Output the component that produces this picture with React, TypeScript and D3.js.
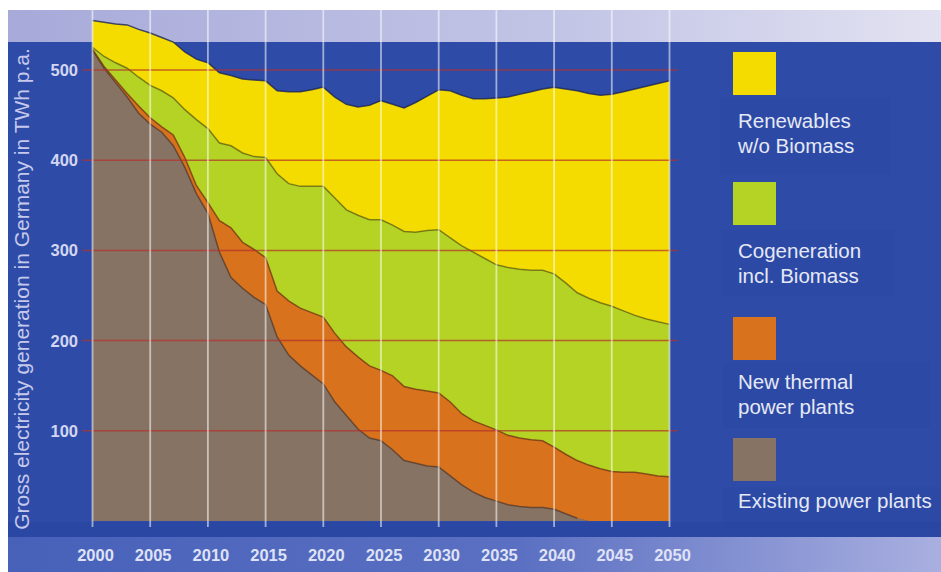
import React from "react";
import * as d3 from "d3";

// Gross electricity generation in Germany, TWh per year (stacked scenario)
const years = d3.range(2000, 2051);

const existingPlants = [
  522, 502, 486, 470, 452, 440, 431, 416, 392, 363,
  341, 298, 270, 258, 248, 240, 204, 184, 172, 162,
  152, 132, 117, 102, 92, 89, 79, 67, 64, 61,
  60, 50, 40, 32, 26, 22, 18, 16, 15, 15,
  13, 8, 3, 0, 0, 0, 0, 0, 0, 0,
  0,
];

const newThermalPlants = [
  1, 2, 3, 4, 8, 7, 6, 12, 11, 9,
  12, 35, 55, 51, 53, 52, 51, 60, 64, 69,
  74, 76, 76, 80, 80, 78, 82, 82, 82, 83,
  82, 82, 79, 79, 80, 79, 77, 76, 75, 74,
  69, 66, 64, 62, 58, 55, 54, 54, 52, 50,
  49,
];

const cogeneration = [
  2, 11, 19, 28, 32, 36, 40, 41, 53, 73,
  82, 86, 91, 99, 103, 111, 130, 130, 135, 140,
  145, 150, 152, 157, 162, 167, 167, 172, 174, 178,
  181, 182, 186, 187, 185, 183, 186, 187, 188, 189,
  192, 190, 186, 185, 184, 183, 179, 174, 172, 171,
  169,
];

const renewables = [
  30, 38, 43, 48, 53, 58, 59, 62, 64, 67,
  73, 78, 78, 82, 85, 85, 92, 102, 105, 107,
  110, 112, 117, 120, 127, 132, 134, 137, 144, 149,
  155, 163, 167, 170, 177, 185, 189, 194, 198, 201,
  207, 215, 224, 227, 230, 235, 243, 251, 258, 264,
  270,
];

const yTicks = [100, 200, 300, 400, 500];
const xTicks = [2000, 2005, 2010, 2015, 2020, 2025, 2030, 2035, 2040, 2045, 2050];

const seriesKeys = ["existing", "newThermal", "cogeneration", "renewables"];
const seriesColors = ["#877364", "#d8721c", "#b4d324", "#f4dc00"];
const seriesEdges = ["#5a3f2c", "#7a3a10", "#6b6a10", "#1c2457"];

const legendLabels = [
  ["Renewables", "w/o Biomass"],
  ["Cogeneration", "incl. Biomass"],
  ["New thermal", "power plants"],
  ["Existing power plants"],
];
const legendColors = ["#f4dc00", "#b4d324", "#d8721c", "#877364"];

const yTitle = "Gross electricity generation in Germany in TWh p.a.";

const W = 941;
const H = 572;
const FONT = "'Liberation Sans', Arial, Helvetica, sans-serif";

export default function App() {
  const x = d3.scaleLinear().domain([2000, 2050]).range([92.5, 669.5]);
  const y = d3.scaleLinear().domain([0, 500]).range([521, 70]);

  const table = years.map((yr, i) => ({
    year: yr,
    existing: existingPlants[i],
    newThermal: newThermalPlants[i],
    cogeneration: cogeneration[i],
    renewables: renewables[i],
  }));

  const stacked = d3.stack<any>().keys(seriesKeys)(table);

  const area = d3
    .area<any>()
    .x((d) => x(d.data.year))
    .y0((d) => y(d[0]))
    .y1((d) => y(d[1]));

  const topLine = d3
    .line<any>()
    .x((d) => x(d.data.year))
    .y((d) => y(d[1]));

  // legend layout (square top, first text baseline)
  const legendSquareY = [52, 182, 317, 438];
  const legendTextY = [128, 258, 389, 508];
  const legendPanels = [
    [720, 98, 170, 76],
    [722, 230, 172, 66],
    [723, 362, 207, 66],
    [723, 487, 218, 42],
  ];

  return (
    <svg
      width={W}
      height={H}
      viewBox={`0 0 ${W} ${H}`}
      style={{ position: "absolute", left: 0, top: 0, display: "block", background: "#ffffff" }}
    >
      <defs>
        <linearGradient id="topBand" x1="0" x2="1" y1="0" y2="0">
          <stop offset="0%" stopColor="#a7aad9" />
          <stop offset="60%" stopColor="#c3c5e6" />
          <stop offset="100%" stopColor="#e2e2f1" />
        </linearGradient>
        <linearGradient id="bottomBand" x1="0" x2="1" y1="0" y2="0">
          <stop offset="0%" stopColor="#4761b9" />
          <stop offset="55%" stopColor="#5b70c2" />
          <stop offset="100%" stopColor="#a9afe0" />
        </linearGradient>
      </defs>

      {/* frame backgrounds */}
      <rect x={8} y={10} width={W - 8} height={32} fill="url(#topBand)" />
      <rect x={8} y={42} width={W - 8} height={495} fill="#2e4ca7" />
      <rect x={8} y={522} width={W - 8} height={15} fill="#2a47a4" />
      <rect x={8} y={537} width={W - 8} height={H - 537} fill="url(#bottomBand)" />

      {/* stacked areas */}
      {stacked.map((s, i) => (
        <path key={seriesKeys[i]} d={area(s) || ""} fill={seriesColors[i]} />
      ))}
      {stacked.map((s, i) => (
        <path
          key={"edge-" + seriesKeys[i]}
          d={topLine(s.filter((d) => d[1] > 0.5)) || ""}
          fill="none"
          stroke={seriesEdges[i]}
          strokeOpacity={0.8}
          strokeWidth={1.5}
        />
      ))}

      {/* horizontal grid */}
      {yTicks.map((t) => (
        <line
          key={"gy" + t}
          x1={82}
          x2={678}
          y1={y(t)}
          y2={y(t)}
          stroke="#b3302c"
          strokeOpacity={0.7}
          strokeWidth={1.5}
        />
      ))}

      {/* vertical year lines */}
      {xTicks.map((t) => (
        <line
          key={"gx" + t}
          x1={x(t)}
          x2={x(t)}
          y1={10}
          y2={527}
          stroke="#ffffff"
          strokeOpacity={0.55}
          strokeWidth={1.8}
        />
      ))}

      {/* y tick labels */}
      {yTicks.map((t) => (
        <text
          key={"ty" + t}
          x={78}
          y={y(t) + 6}
          textAnchor="end"
          fontFamily={FONT}
          fontWeight="bold"
          fontSize={16.5}
          fill="#d3d6f1"
        >
          {t}
        </text>
      ))}

      {/* x tick labels */}
      {xTicks.map((t) => (
        <text
          key={"tx" + t}
          x={x(t) + 3}
          y={561}
          textAnchor="middle"
          fontFamily={FONT}
          fontWeight="bold"
          fontSize={16.5}
          fill="#dfe2f6"
        >
          {t}
        </text>
      ))}

      {/* y axis title */}
      <text
        transform={`translate(29, 289) rotate(-90)`}
        textAnchor="middle"
        fontFamily={FONT}
        fontSize={21}
        fill="#c6c9ec"
      >
        {yTitle}
      </text>

      {/* legend */}
      {legendLabels.map((lines, i) => (
        <g key={"lg" + i}>
          <rect
            x={legendPanels[i][0]}
            y={legendPanels[i][1]}
            width={legendPanels[i][2]}
            height={legendPanels[i][3]}
            fill="#24409a"
            fillOpacity={0.15}
          />
          <rect x={733} y={legendSquareY[i]} width={43} height={43} fill={legendColors[i]} />
          {lines.map((ln, j) => (
            <text
              key={j}
              x={738}
              y={legendTextY[i] + j * 25}
              fontFamily={FONT}
              fontSize={20.5}
              fill="#e6e8f6"
            >
              {ln}
            </text>
          ))}
        </g>
      ))}
    </svg>
  );
}
